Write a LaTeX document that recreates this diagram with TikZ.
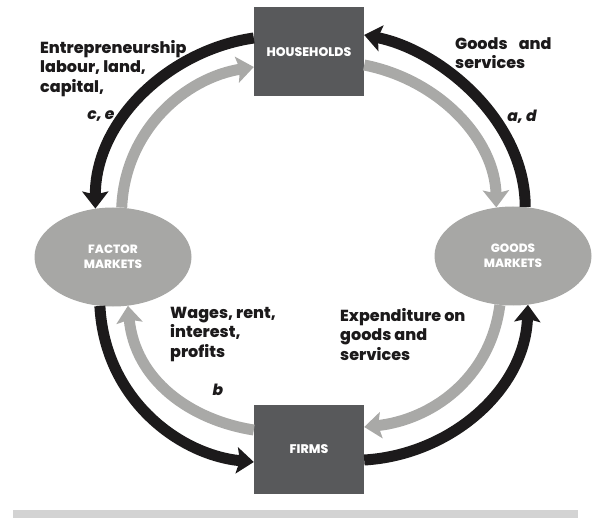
\documentclass[tikz,border=0pt]{standalone}
\usepackage{fontspec}
\setmainfont{Poppins}[BoldFont={Poppins ExtraBold}, BoldItalicFont={Poppins ExtraBold Italic}]
\usetikzlibrary{arrows.meta,shapes.geometric}
\definecolor{boxgrey}{HTML}{58595B}
\definecolor{ovalgrey}{HTML}{A7A7A5}
\definecolor{flowgrey}{HTML}{A9A9A7}
\definecolor{flowblack}{HTML}{1C1A1B}
\definecolor{bargrey}{HTML}{D3D3D3}

\begin{document}
\begin{tikzpicture}[x=1pt, y=-1pt,
    sector/.style={fill=boxgrey, minimum width=110pt, minimum height=89pt, inner sep=0pt,
      text=white, font=\bfseries\fontsize{12.5}{14}\selectfont},
    market/.style={ellipse, fill=ovalgrey, minimum width=157pt, minimum height=99pt, inner sep=0pt,
      text=white, align=center, font=\bfseries\fontsize{12}{15}\selectfont},
    flow/.style={line width=11pt, -{Stealth[length=17pt,width=26pt,inset=3pt]}},
    real/.style={flow, flowblack},
    money/.style={flow, flowgrey},
    lbl/.style={anchor=north west, align=left, inner sep=0pt, text=flowblack,
      font=\bfseries\fontsize{16}{19.5}\selectfont},
    tag/.style={inner sep=0pt, text=flowblack, font=\bfseries\itshape\fontsize{15.5}{17}\selectfont}]
  \useasboundingbox (0,0) rectangle (599,518);
  \fill[bargrey] (13,510) rectangle (578,518);

  \node[sector] (hh) at (309,52) {HOUSEHOLDS};
  \node[sector] (firms) at (309,449.5) {FIRMS};
  \node[market] (fm) at (113,257) {FACTOR\\MARKETS};
  \node[market] (gm) at (513,256) {GOODS\\MARKETS};

  % households <-> factor markets
  \draw[real] ([yshift=14pt]hh.west) .. controls (170,50) and (95,120) .. (fm.110);
  \draw[money] (fm.80) .. controls (125,130) and (185,78) .. ([yshift=-15pt]hh.west);
  % households <-> goods markets
  \draw[real] (gm.76) .. controls (525,120) and (440,50) .. ([yshift=17pt]hh.east);
  \draw[money] ([yshift=-13pt]hh.east) .. controls (440,80) and (495,140) .. (gm.109);
  % firms <-> factor markets
  \draw[real] (fm.255) .. controls (105,400) and (180,455) .. ([yshift=-12.5pt]firms.west);
  \draw[money] ([yshift=19.5pt]firms.west) .. controls (190,420) and (135,380) .. (fm.287);
  % firms <-> goods markets
  \draw[real] ([yshift=-10.5pt]firms.east) .. controls (450,455) and (525,390) .. (gm.287);
  \draw[money] (gm.255) .. controls (490,380) and (430,420) .. ([yshift=22.5pt]firms.east);

  \node[lbl] (inputs) at (40,40) {Entrepreneurship\\labour, land,\\capital,};
  \node[tag] (ce) at (101,116) {c, e};
  \node[lbl] (goods) at (455,37) {Goods\hspace{0.7em}and\\services};
  \node[tag] (ad) at (522,117) {a, d};
  \node[lbl] (incomes) at (170,307) {Wages, rent,\\interest,\\profits};
  \node[tag] (b) at (218,390) {b};
  \node[lbl] (spending) at (340,308) {Expenditure on\\goods and\\services};
\end{tikzpicture}
\end{document}
